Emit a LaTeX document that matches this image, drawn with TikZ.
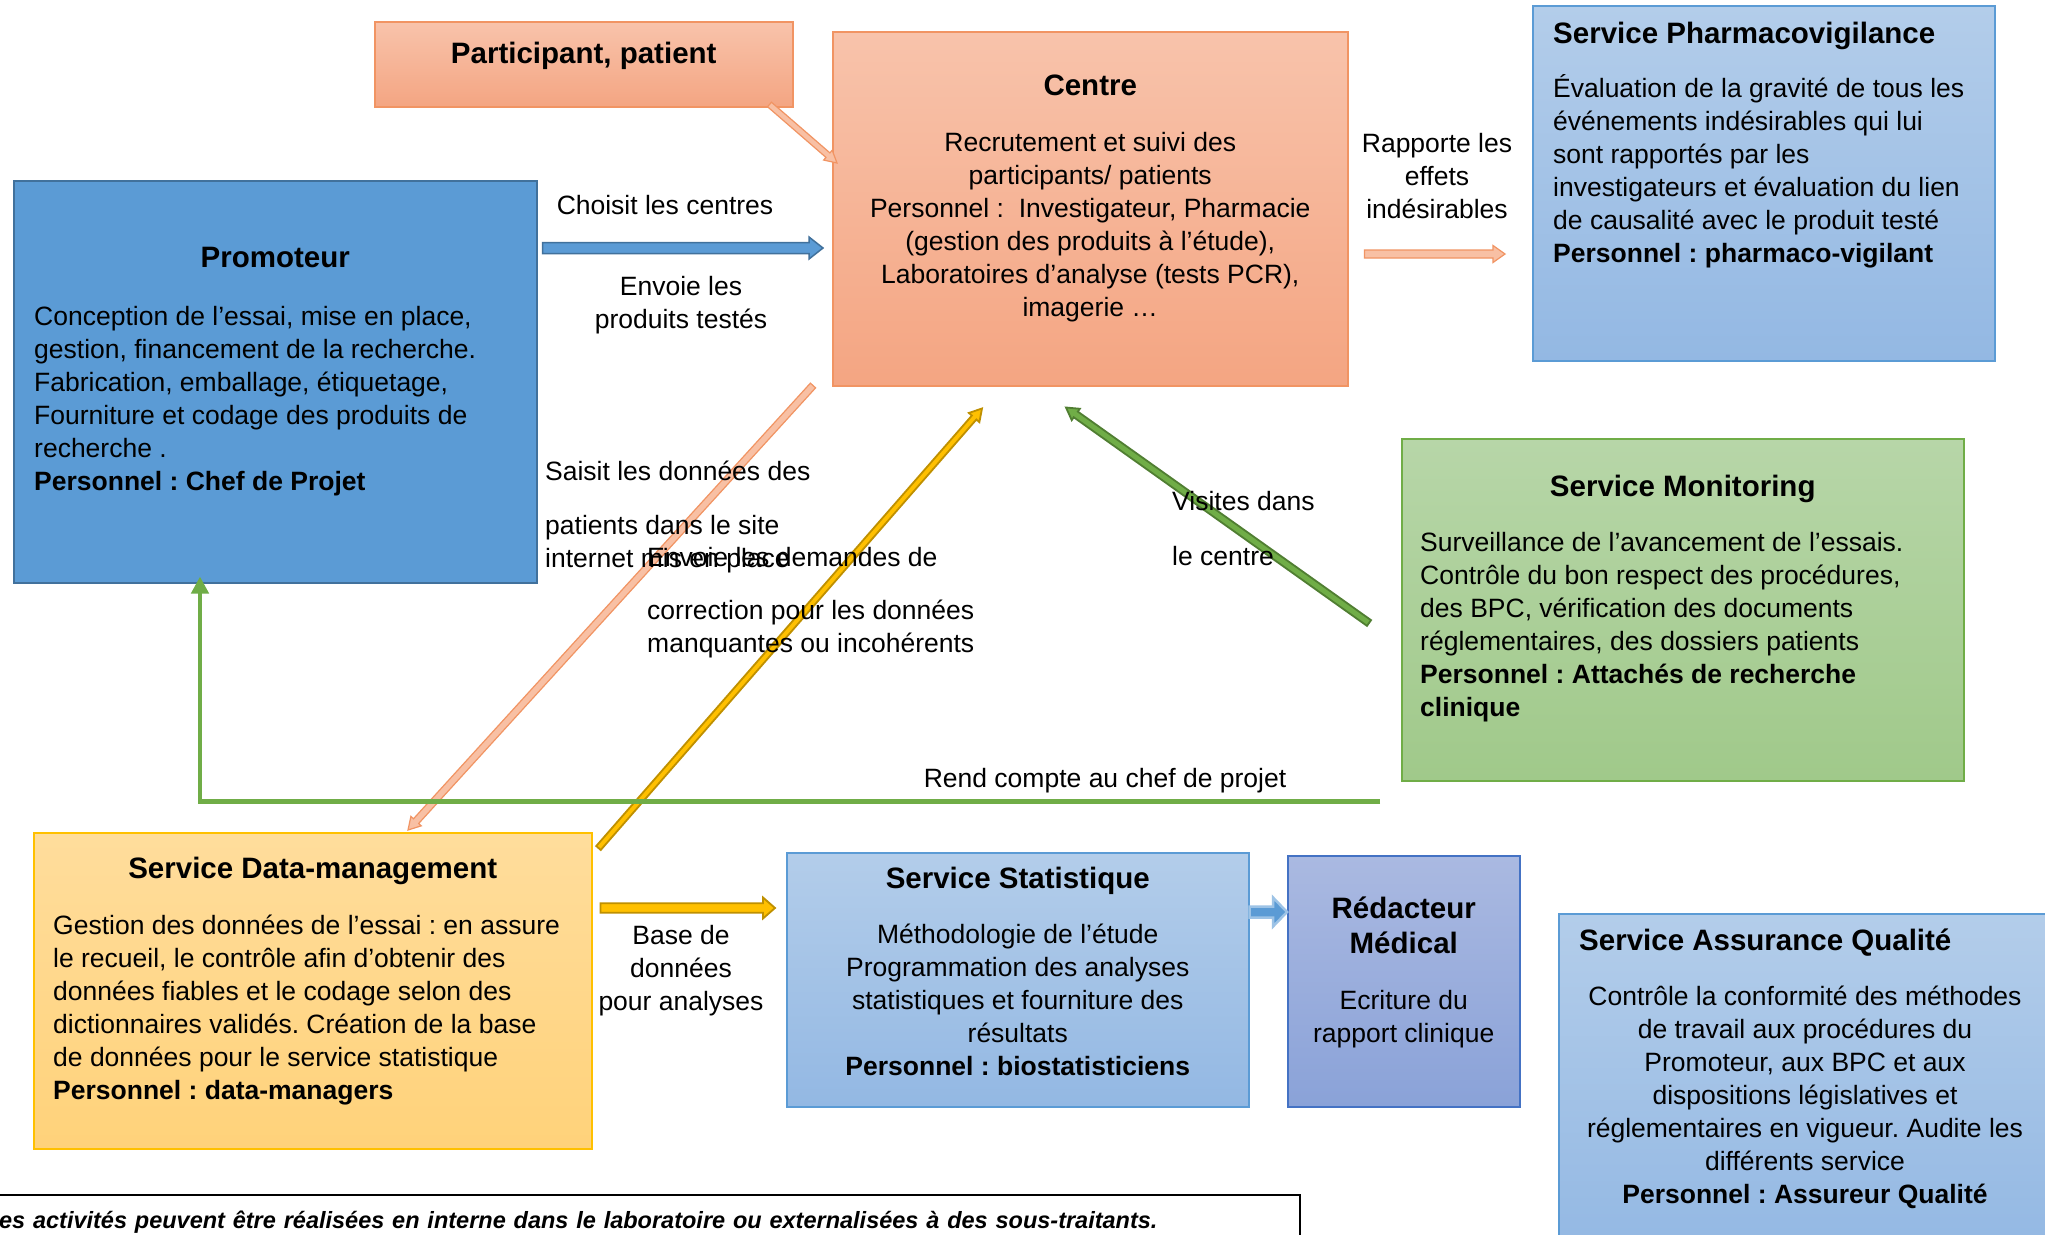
\documentclass[tikz,border=0pt]{standalone}
\usepackage{fontspec}
\setmainfont{Liberation Sans}
\usetikzlibrary{arrows.meta, calc}
\frenchspacing

\definecolor{promoFill}{HTML}{5B9BD5}
\definecolor{promoLine}{HTML}{41719C}
\definecolor{salmonTop}{HTML}{F8C3AB}
\definecolor{salmonBot}{HTML}{F4A582}
\definecolor{salmonLine}{HTML}{F19463}
\definecolor{paleSalmon}{HTML}{F8C0A4}
\definecolor{blueTop}{HTML}{B3CDEA}
\definecolor{blueBot}{HTML}{93B8E3}
\definecolor{blueLine}{HTML}{5B9BD5}
\definecolor{paleBlue}{HTML}{9DC3E6}
\definecolor{greenTop}{HTML}{B7D6A8}
\definecolor{greenBot}{HTML}{A0C98A}
\definecolor{greenLine}{HTML}{70AD47}
\definecolor{greenDark}{HTML}{507E32}
\definecolor{yellowTop}{HTML}{FFDD9C}
\definecolor{yellowBot}{HTML}{FFD27A}
\definecolor{yellowLine}{HTML}{FFC000}
\definecolor{yellowDark}{HTML}{BF9000}
\definecolor{violetTop}{HTML}{AAB9E1}
\definecolor{violetBot}{HTML}{8AA2D8}
\definecolor{violetLine}{HTML}{4472C4}

\newcommand{\bodyfont}{\fontsize{26.5}{33}\selectfont}
\newcommand{\titlefont}{\fontsize{29.5}{35}\selectfont\bfseries}

% block arrow: style, from, to, shaft half width, head half width, head length
\newcommand{\blockarrow}[6]{%
  \coordinate (ba-h) at ($(#3)!#6!(#2)$);
  \draw[#1] ($(#2)!#4!90:(#3)$) -- ($(ba-h)!#4!90:(#3)$) -- ($(ba-h)!#5!90:(#3)$) -- (#3)
    -- ($(ba-h)!#5!-90:(#3)$) -- ($(ba-h)!#4!-90:(#3)$) -- ($(#2)!#4!-90:(#3)$) -- cycle;
}

\tikzset{
  box/.style={rectangle, anchor=north west, inner sep=0pt, line width=1.5pt},
  salmonbox/.style={box, draw=salmonLine, top color=salmonTop, bottom color=salmonBot},
  bluebox/.style={box, draw=blueLine, top color=blueTop, bottom color=blueBot},
  title/.style={font=\titlefont, inner sep=0pt, anchor=north, align=center},
  body/.style={font=\bodyfont, inner sep=0pt, align=left, anchor=north west},
  cbody/.style={font=\bodyfont, inner sep=0pt, align=center, anchor=north},
  label/.style={font=\bodyfont, inner sep=0pt, align=center},
  notebox/.style={draw=black, line width=1.8pt, anchor=north east, minimum width=1330pt,
    text width=1272pt, inner xsep=29pt, inner ysep=16pt, align=left,
    font=\fontsize{23.5}{28}\selectfont\bfseries\itshape},
  salmonarrow/.style={fill=paleSalmon, draw=salmonLine, line width=1.2pt},
  yellowarrow/.style={fill=yellowLine, draw=yellowDark, line width=1.8pt},
  greenarrow/.style={fill=greenLine, draw=greenDark, line width=1.8pt},
  bluearrow/.style={fill=promoFill, draw=promoLine, line width=1.5pt}
}

\begin{document}
\begin{tikzpicture}[x=1pt, y=-1pt]
\useasboundingbox (0,0) rectangle (2045,1234);
\clip (0,0) rectangle (2045,1234);
\fill[white] (0,0) rectangle (2045,1234);

% Boxes
\node[salmonbox, minimum width=418pt, minimum height=85pt] (patient) at (374,21) {};
\node[title] (patient-t) at ($(patient.north)+(0,21)$) {Participant, patient};

\node[salmonbox, minimum width=515pt, minimum height=354pt] (centre) at (832,31) {};
\node[title] (centre-t) at ($(centre.north)+(0,44)$) {Centre};
\node[cbody] (centre-b) at ($(centre.north)+(0,101)$) {Recrutement et suivi des\\participants/ patients\\Personnel :~ Investigateur, Pharmacie\\(gestion des produits à l’étude),\\Laboratoires d’analyse (tests PCR),\\imagerie …};

\node[box, draw=promoLine, fill=promoFill, minimum width=523pt, minimum height=402pt] (promo) at (13,180) {};
\node[title] (promo-t) at ($(promo.north)+(0,67)$) {Promoteur};
\node[body] (promo-b) at ($(promo.north west)+(21,126)$) {Conception de l’essai, mise en place,\\gestion, financement de la recherche.\\Fabrication, emballage, étiquetage,\\Fourniture et codage des produits de\\recherche .\\\textbf{Personnel : Chef de Projet}};

\node[bluebox, minimum width=462pt, minimum height=355pt] (pharma) at (1532,5) {};
\node[title, anchor=north west] (pharma-t) at ($(pharma.north west)+(21,17)$) {Service Pharmacovigilance};
\node[body] (pharma-b) at ($(pharma.north west)+(21,69)$) {Évaluation de la gravité de tous les\\événements indésirables qui lui\\sont rapportés par les\\investigateurs et évaluation du lien\\de causalité avec le produit testé\\\textbf{Personnel : pharmaco-vigilant}};

\node[box, draw=greenLine, top color=greenTop, bottom color=greenBot, minimum width=562pt, minimum height=342pt] (monit) at (1401,438) {};
\node[title] (monit-t) at ($(monit.north)+(0,37)$) {Service Monitoring};
\node[body] (monit-b) at ($(monit.north west)+(19,94)$) {Surveillance de l’avancement de l’essais.\\Contrôle du bon respect des procédures,\\des BPC, vérification des documents\\réglementaires, des dossiers patients\\\textbf{Personnel : Attachés de recherche}\\\textbf{clinique}};

\node[box, draw=yellowLine, top color=yellowTop, bottom color=yellowBot, minimum width=558pt, minimum height=316pt] (dm) at (33,832) {};
\node[title] (dm-t) at ($(dm.north)+(0,25)$) {Service Data-management};
\node[body] (dm-b) at ($(dm.north west)+(20,83)$) {Gestion des données de l’essai : en assure\\le recueil, le contrôle afin d’obtenir des\\données fiables et le codage selon des\\dictionnaires validés. Création de la base\\de données pour le service statistique\\\textbf{Personnel : data-managers}};

\node[bluebox, minimum width=462pt, minimum height=254pt] (stat) at (786,852) {};
\node[title] (stat-t) at ($(stat.north)+(0,15)$) {Service Statistique};
\node[cbody] (stat-b) at ($(stat.north)+(0,72)$) {Méthodologie de l’étude\\Programmation des analyses\\statistiques et fourniture des\\résultats\\\textbf{Personnel : biostatisticiens}};

\node[box, draw=violetLine, top color=violetTop, bottom color=violetBot, minimum width=232pt, minimum height=251pt] (redac) at (1287,855) {};
\node[title] (redac-t) at ($(redac.north)+(0,42)$) {Rédacteur\\Médical};
\node[cbody] (redac-b) at ($(redac.north)+(0,135)$) {Ecriture du\\rapport clinique};

\node[bluebox, minimum width=494pt, minimum height=340pt] (qa) at (1558,913) {};
\node[title, anchor=north west] (qa-t) at ($(qa.north west)+(21,16)$) {Service Assurance Qualité};
\node[cbody] (qa-b) at ($(qa.north west)+(247,73)$) {Contrôle la conformité des méthodes\\de travail aux procédures du\\Promoteur, aux BPC et aux\\dispositions législatives et\\réglementaires en vigueur. Audite les\\différents service\\\textbf{Personnel : Assureur Qualité}};

\node[notebox] (note) at (1301,1194) {es activités peuvent être réalisées en interne dans le laboratoire ou externalisées à des sous-traitants.};

% Arrow ends
\coordinate (a-promo-s) at ($(promo.north east)+(5,68)$);
\coordinate (a-promo-e) at ($(centre.north west)+(-9,217)$);
\coordinate (a-pat-s) at ($(patient.south east)+(-24,-3)$);
\coordinate (a-pat-e) at ($(centre.north west)+(5,132)$);
\coordinate (a-saisit-s) at ($(centre.south west)+(-19,-1)$);
\coordinate (a-saisit-e) at ($(dm.north west)+(375,-2)$);
\coordinate (a-corr-s) at ($(dm.north east)+(6,16)$);
\coordinate (a-corr-e) at ($(centre.south west)+(150,22)$);
\coordinate (a-visit-s) at ($(monit.north west)+(-32,185)$);
\coordinate (a-visit-e) at ($(centre.south west)+(234,21)$);
\coordinate (a-pv-s) at ($(centre.north east)+(16,223)$);
\coordinate (a-pv-e) at ($(pharma.north west)+(-27,249)$);
\coordinate (a-base-s) at ($(dm.north east)+(8,76)$);
\coordinate (a-base-e) at ($(stat.north west)+(-11,56)$);
\coordinate (a-stat-s) at ($(stat.north east)+(0,60)$);
\coordinate (a-stat-e) at ($(redac.north west)+(0,57)$);
\coordinate (a-rend-s) at ($(monit.south west)+(-21,20)$);
\coordinate (a-rend-e) at ($(promo.south west)+(187,-7)$);

% Arrows
\blockarrow{bluearrow}{a-promo-s}{a-promo-e}{5.5pt}{11pt}{14pt}
\blockarrow{salmonarrow}{a-pat-s}{a-pat-e}{3pt}{6.5pt}{12pt}
\blockarrow{salmonarrow}{a-saisit-s}{a-saisit-e}{3.5pt}{7pt}{12pt}
\blockarrow{yellowarrow}{a-corr-s}{a-corr-e}{3pt}{7pt}{12pt}
\blockarrow{greenarrow}{a-visit-s}{a-visit-e}{3.5pt}{7pt}{12pt}
\blockarrow{salmonarrow}{a-pv-s}{a-pv-e}{4pt}{8.5pt}{12pt}
\blockarrow{yellowarrow}{a-base-s}{a-base-e}{4.7pt}{10.5pt}{12pt}
\blockarrow{fill=promoFill, draw=paleBlue, line width=2.5pt}{a-stat-s}{a-stat-e}{5.5pt}{14.5pt}{14pt}
\draw[greenLine, line width=4.5pt, -{Triangle[width=17pt, length=17pt]}] (a-rend-s) -| (a-rend-e);

% Connector labels
\node[label] (choisit) at (665,205) {Choisit les centres};
\node[label] (envoie) at (681,305) {Envoie les\\produits testés};
\node[label] (rapporte) at (1437,176) {Rapporte les\\effets\\indésirables};
\node[label] (base) at (681,971) {Base de\\données\\pour analyses};
\node[label] (rend) at (1105,781) {Rend compte au chef de projet};
\node[label, align=left, anchor=north west] (saisit) at (545,461) {Saisit les données des\\[21pt]patients dans le site\\internet mis en place};
\node[label, align=left, anchor=north west] (demandes) at (647,547) {Envoie les demandes de\\[20pt]correction pour les données\\manquantes ou incohérents};
\node[label, align=left, anchor=north west] (visites) at (1172,491) {Visites dans\\[22pt]le centre};

\end{tikzpicture}
\end{document}
